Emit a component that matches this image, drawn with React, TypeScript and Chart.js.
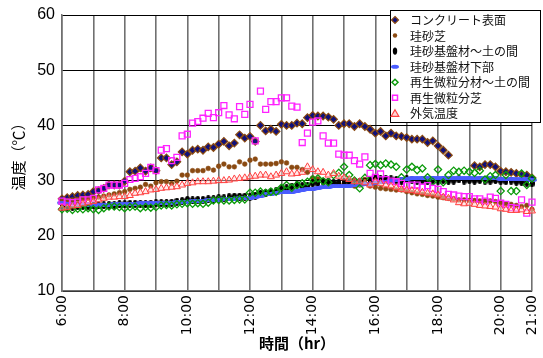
import React, { useEffect, useRef } from 'react';
import { Chart, registerables } from 'chart.js';

Chart.register(...registerables);

// ---- categories (10-minute readings, 6:00 - 21:00) ----
const timeLabels: string[] = [];
for (let h = 6; h <= 21; h++) {
  for (let m = 0; m < 60; m += 10) {
    if (h === 21 && m > 0) break;
    timeLabels.push(`${h}:${m === 0 ? '00' : String(m)}`);
  }
}
const shownTickLabels = ['6:00', '8:00', '10:00', '12:00', '14:00', '16:00', '18:00', '20:00', '21:00'];

const seriesNames = [
  'コンクリート表面',
  '珪砂芝',
  '珪砂基盤材～土の間',
  '珪砂基盤材下部',
  '再生微粒分材～土の間',
  '再生微粒分芝',
  '外気温度',
];

const yTicks = [10, 20, 30, 40, 50, 60];

// ---- series values (°C) ----
const concreteSurface = [
  26.7, 26.9, 27.1, 27.3, 27.4, 27.5, 28.0, 28.2, 28.6, 29.2, 29.2, 29.2,
  29.9, 31.6, 31.7, 32.3, 31.7, 32.3, 31.8, 34.1, 34.1, 32.9, 33.4, 35.2,
  34.8, 35.5, 35.7, 35.5, 36.1, 36.0, 36.6, 37.1, 36.3, 36.8, 38.3, 37.7,
  38.0, 37.1, 40.0, 39.0, 39.3, 38.9, 40.2, 40.0, 40.0, 40.4, 40.3, 41.4,
  41.8, 41.7, 41.7, 41.5, 41.1, 40.0, 40.3, 40.3, 39.8, 40.3, 39.8, 39.3,
  38.6, 38.9, 38.1, 38.6, 38.1, 38.0, 37.8, 37.5, 37.5, 37.5, 36.9, 37.2,
  36.3, 35.5, 34.6, null, null, null, null, 32.7, 32.5, 32.9, 32.9, 32.5,
  31.7, 31.6, 31.5, 31.3, 31.1, 31.0, 30.5,
];
const silicaTurf = [
  26.3, 26.4, 26.5, 26.6, 26.7, 26.8, 26.9, 27.0, 27.2, 27.4, 27.6, 27.8,
  28.0, 28.4, 28.6, 28.8, 29.3, 29.0, 29.6, 29.8, 29.8, 29.5, 29.9, 31.0,
  31.0, 31.8, 31.8, 31.8, 32.2, 31.9, 32.6, 33.0, 32.5, 32.5, 33.4, 33.0,
  33.7, 33.9, 33.0, 33.0, 33.0, 33.1, 33.4, 33.2, 32.4, 32.4, 32.0, 31.5,
  30.5, 30.3, 30.0, 29.8, 29.6, 29.5, 29.3, 29.2, 29.0, 29.2, 30.2, 29.0,
  28.8, 28.6, 28.5, 28.4, 28.3, 28.3, 28.0, 27.8, 27.6, 27.5, 27.3, 27.2,
  27.0, 26.9, 26.8, 26.7, 26.5, 26.5, 26.4, 26.4, 26.3, 26.3, 26.3, 26.2,
  26.0, 25.8, 25.7, 25.5, 25.3, 25.5, 24.8,
];
const silicaBaseSoil = [
  25.3, 25.3, 25.3, 25.4, 25.4, 25.4, 25.5, 25.5, 25.5, 25.6, 25.6, 25.7,
  25.7, 25.8, 25.8, 25.8, 25.7, 25.8, 25.9, 25.9, 25.9, 26.0, 26.2, 26.3,
  26.5, 26.4, 26.5, 26.5, 26.6, 26.6, 26.8, 26.8, 27.0, 27.1, 27.1, 27.1,
  27.1, 27.3, 27.6, 27.7, 27.9, 28.1, 28.4, 28.6, 28.9, 29.2, 29.0, 29.0,
  29.5, 29.5, 29.8, 29.8, 29.6, 29.6, 29.8, 29.8, 29.8, 29.7, 29.8, 30.0,
  30.4, 30.2, 30.3, 30.2, 30.1, 30.0, 30.2, 30.1, 30.0, 30.1, 30.0, 30.1,
  30.0, 30.1, 30.0, 30.0, 30.2, 30.0, 30.1, 30.0, 30.1, 30.0, 30.0, 30.1,
  30.0, 29.9, 30.0, 29.8, 29.8, 29.6, 29.5,
];
const silicaBaseLower = [
  26.0, 25.8, 25.7, 25.6, 25.6, 25.6, 25.6, 25.6, 25.6, 25.6, 25.7, 25.7,
  25.8, 25.8, 25.8, 25.9, 25.9, 25.9, 25.9, 26.0, 26.0, 26.0, 26.1, 26.2,
  26.2, 26.3, 26.3, 26.3, 26.4, 26.5, 26.5, 26.6, 26.6, 26.7, 26.8, 26.8,
  26.9, 27.1, 27.3, 27.5, 27.6, 27.8, 27.9, 28.0, 28.0, 28.2, 28.3, 28.4,
  28.5, 28.7, 28.8, 28.9, 29.0, 29.0, 29.0, 29.1, 29.2, 29.2, 29.3, 29.4,
  29.5, 29.7, 29.8, 30.0, 30.1, 30.2, 30.3, 30.4, 30.5, 30.5, 30.5, 30.5,
  30.5, 30.5, 30.5, 30.5, 30.5, 30.5, 30.5, 30.4, 30.4, 30.4, 30.4, 30.4,
  30.3, 30.3, 30.3, 30.2, 30.2, 30.2, 30.1,
];
const recycledBaseSoil = [
  24.8, 24.9, 24.7, 24.9, 24.8, 25.0, 24.8, 24.7, 25.0, 25.3, 25.3, 25.2,
  25.0, 25.2, 25.3, 25.0, 25.2, 25.1, 25.2, 25.5, 25.6, 25.5, 25.7, 25.8,
  25.9, 25.8, 25.9, 25.8, 26.0, 26.4, 26.5, 26.4, 26.4, 26.5, 26.6, 26.6,
  27.8, 27.8, 28.0, 27.8, 28.0, 28.0, 28.7, 29.2, 28.7, 29.2, 29.5, 29.8,
  30.2, 30.4, 29.9, 29.7, 31.0, 31.4, 32.5, 31.0, 30.0, 28.6, 30.5, 32.8,
  33.0, 32.8, 33.1, 32.9, 32.5, 30.6, 32.0, 32.5, 31.9, 32.2, 30.6, 29.8,
  32.0, 29.7, 31.0, 31.8, 31.6, 31.8, 31.6, 31.4, 31.8, 30.2, 30.8, 31.0,
  28.1, 31.0, 28.1, 28.1, 31.3, 29.2, 30.4,
];
const recycledTurf = [
  26.3, 26.1, 26.0, 26.1, 26.5, 26.5, 26.8, 28.3, 28.6, 29.2, 29.2, 29.2,
  29.5, 30.2, 30.4, 30.7, 31.3, 32.4, 31.8, 35.5, 35.8, 33.6, 34.2, 38.1,
  38.4, 40.4, 40.7, 41.3, 42.2, 41.4, 42.3, 43.6, 41.9, 41.2, 43.4, 42.0,
  43.8, 37.2, 46.2, 42.9, 44.3, 44.3, 45.0, 45.0, 43.5, 43.3, 36.9, 38.6,
  40.6, 40.8, 38.1, 36.8, 36.8, 34.8, 34.6, 34.6, 33.6, 33.0, 34.3, 31.3,
  30.6, 31.2, 30.2, 29.9, 29.8, 29.5, 29.1, 29.2, 29.2, 28.8, 29.1, 28.6,
  28.4, 28.0, 27.5, 27.4, 27.2, 27.1, 27.1, 26.7, 26.7, 26.3, 27.0, 26.8,
  25.9, 25.7, 25.1, 25.0, 26.5, 24.1, 26.1,
];
const outdoorAir = [
  25.0, 25.1, 25.4, 25.5, 25.8, 26.0, 26.2, 26.5, 26.8, 27.0, 27.0, 27.1,
  27.1, 27.3, 27.7, 27.8, 28.0, 28.3, 28.4, 28.6, 28.7, 28.8, 28.9, 29.2,
  29.5, 29.6, 29.8, 29.8, 29.8, 29.9, 30.0, 30.0, 30.1, 30.3, 30.4, 30.5,
  30.7, 30.8, 31.0, 31.0, 30.7, 31.0, 31.3, 31.6, 31.2, 31.3, 31.5, 32.5,
  32.0, 31.6, 31.5, 31.0, 31.3, 30.8, 30.5, 30.2, 29.8, 29.8, 29.6, 29.2,
  29.8, 29.5, 29.2, 29.0, 28.7, 28.4, 28.3, 28.2, 28.0, 27.9, 27.7, 27.6,
  27.4, 27.0, 26.8, 26.5, 26.0, 25.8, 25.9, 25.7, 25.5, 25.4, 25.3, 25.2,
  24.9, 24.8, 24.6, 24.6, 24.7, 24.4, 24.5,
];

const NAVY = '#10107a';
const BROWN = '#8a4a12';
const BLACK = '#000000';
const BLUE = '#4a5cff';
const GREEN = '#0a9a0a';
const MAGENTA = '#ff22ff';
const RED = '#ff4040';

function makeEllipse(w: number, h: number, color: string): HTMLCanvasElement {
  const c = document.createElement('canvas');
  c.width = w;
  c.height = h;
  const g = c.getContext('2d')!;
  g.fillStyle = color;
  g.beginPath();
  g.ellipse(w / 2, h / 2, w / 2, h / 2, 0, 0, Math.PI * 2);
  g.fill();
  return c;
}

function drawLegendIcon(ctx: CanvasRenderingContext2D, i: number, x: number, y: number) {
  ctx.save();
  ctx.lineWidth = 1.2;
  switch (i) {
    case 0:
      ctx.fillStyle = NAVY;
      ctx.strokeStyle = BROWN;
      ctx.beginPath();
      ctx.moveTo(x, y - 3.5); ctx.lineTo(x + 3.5, y); ctx.lineTo(x, y + 3.5); ctx.lineTo(x - 3.5, y); ctx.closePath();
      ctx.fill(); ctx.stroke();
      break;
    case 1:
      ctx.fillStyle = BROWN;
      ctx.beginPath(); ctx.arc(x, y, 2.2, 0, Math.PI * 2); ctx.fill();
      break;
    case 2:
      ctx.fillStyle = BLACK;
      ctx.beginPath(); ctx.ellipse(x, y, 2.2, 3.6, 0, 0, Math.PI * 2); ctx.fill();
      break;
    case 3:
      ctx.fillStyle = BLUE;
      ctx.beginPath(); ctx.ellipse(x, y, 4, 2, 0, 0, Math.PI * 2); ctx.fill();
      break;
    case 4:
      ctx.strokeStyle = GREEN; ctx.lineWidth = 1.5;
      ctx.beginPath();
      ctx.moveTo(x, y - 3); ctx.lineTo(x + 3, y); ctx.lineTo(x, y + 3); ctx.lineTo(x - 3, y); ctx.closePath();
      ctx.stroke();
      break;
    case 5:
      ctx.strokeStyle = MAGENTA; ctx.lineWidth = 1.5;
      ctx.strokeRect(x - 2.5, y - 2.5, 5, 5);
      break;
    case 6:
      ctx.strokeStyle = RED; ctx.fillStyle = '#ffd6d6'; ctx.lineWidth = 1.2;
      ctx.beginPath();
      ctx.moveTo(x, y - 3.5); ctx.lineTo(x + 3.8, y + 3); ctx.lineTo(x - 3.8, y + 3); ctx.closePath();
      ctx.fill(); ctx.stroke();
      break;
  }
  ctx.restore();
}

const boxLegend = {
  id: 'boxLegend',
  afterDraw(chart: any) {
    const ctx: CanvasRenderingContext2D = chart.ctx;
    ctx.save();
    const x0 = 390.5, y0 = 10.5, w = 150, h = 112;
    ctx.fillStyle = '#ffffff';
    ctx.fillRect(x0, y0, w, h);
    ctx.strokeStyle = '#000000';
    ctx.lineWidth = 1;
    ctx.strokeRect(x0, y0, w, h);
    ctx.font = '12px "Noto Sans CJK JP", sans-serif';
    ctx.textBaseline = 'middle';
    ctx.textAlign = 'left';
    seriesNames.forEach((name, i) => {
      const cy = 20 + i * 15.55;
      drawLegendIcon(ctx, i, 395, cy);
      ctx.fillStyle = '#111111';
      ctx.fillText(name, 410, cy + 0.5);
    });
    ctx.restore();
  },
};

export default function App() {
  const canvasRef = useRef<HTMLCanvasElement | null>(null);

  useEffect(() => {
    if (!canvasRef.current) return;
    const blackEllipse = makeEllipse(5, 8, BLACK);
    const blueDash = makeEllipse(10, 4, BLUE);

    const common = { showLine: false, spanGaps: false };
    const chart = new Chart(canvasRef.current, {
      type: 'line',
      data: {
        labels: timeLabels,
        datasets: [
          { ...common, label: seriesNames[0], data: concreteSurface, pointStyle: 'rectRot', pointRadius: 3.8, backgroundColor: NAVY, borderColor: BROWN, pointBorderWidth: 1.2, order: 7 },
          { ...common, label: seriesNames[1], data: silicaTurf, pointStyle: 'circle', pointRadius: 2.4, backgroundColor: BROWN, borderColor: BROWN, pointBorderWidth: 0.5, order: 6 },
          { ...common, label: seriesNames[2], data: silicaBaseSoil, pointStyle: blackEllipse as any, backgroundColor: BLACK, borderColor: BLACK, order: 5 },
          { ...common, label: seriesNames[3], data: silicaBaseLower, pointStyle: blueDash as any, backgroundColor: BLUE, borderColor: BLUE, order: 4 },
          { ...common, label: seriesNames[4], data: recycledBaseSoil, pointStyle: 'rectRot', pointRadius: 3.6, backgroundColor: 'rgba(255,255,255,0)', borderColor: GREEN, pointBorderWidth: 1.3, order: 3 },
          { ...common, label: seriesNames[5], data: recycledTurf, pointStyle: 'rect', pointRadius: 4.2, backgroundColor: 'rgba(255,255,255,0)', borderColor: MAGENTA, pointBorderWidth: 1.3, order: 2 },
          { ...common, label: seriesNames[6], data: outdoorAir, pointStyle: 'triangle', pointRadius: 4.0, backgroundColor: 'rgba(255,214,214,0.5)', borderColor: RED, pointBorderWidth: 1.0, order: 1 },
        ] as any,
      },
      options: {
        responsive: false,
        animation: false,
        events: [],
        layout: { padding: { left: 0, right: 11, top: 15, bottom: 0 } },
        plugins: {
          legend: { display: false },
          tooltip: { enabled: false },
        },
        scales: {
          x: {
            type: 'category',
            offset: false,
            grid: {
              color: (c: any) => (c.index % 6 === 0 ? '#707070' : 'rgba(0,0,0,0)'),
              lineWidth: 1.6,
              drawTicks: false,
            },
            border: { display: true, color: '#707070', width: 1.5 },
            ticks: {
              autoSkip: false,
              minRotation: 90,
              maxRotation: 90,
              padding: 4,
              color: '#000000',
              font: { family: '"DejaVu Sans", sans-serif', size: 14 },
              callback: (_v: any, index: number) => {
                const l = timeLabels[index];
                return shownTickLabels.includes(l) ? l : '';
              },
            },
            title: {
              display: true,
              text: '時間（hr）',
              color: '#000000',
              font: { family: '"Noto Sans CJK JP", sans-serif', size: 15, weight: 'bold' },
              padding: { top: 0, bottom: 6 },
            },
            afterFit: (s: any) => {
              s.height = 67;
              s.paddingLeft = 0;
              s.paddingRight = 0;
            },
          },
          y: {
            min: 10,
            max: 60,
            afterBuildTicks: (s: any) => { s.ticks = yTicks.map((v) => ({ value: v })); },
            grid: { color: '#000000', lineWidth: 1, drawTicks: false },
            border: { display: true, color: '#707070', width: 1.5 },
            ticks: {
              padding: 7,
              color: '#000000',
              font: { family: '"Liberation Sans", Arial, sans-serif', size: 16 },
            },
            title: {
              display: true,
              text: '温度（℃）',
              color: '#000000',
              font: { family: '"Noto Sans CJK JP", sans-serif', size: 15 },
              padding: { top: 9, bottom: 0 },
            },
            afterFit: (s: any) => {
              s.width = 62;
              s.paddingTop = 0;
              s.paddingBottom = 0;
            },
          },
        },
      } as any,
      plugins: [boxLegend],
    });
    return () => chart.destroy();
  }, []);

  return (
    <div style={{ position: 'absolute', left: 0, top: 0, width: 543, height: 358, background: '#ffffff' }}>
      <canvas ref={canvasRef} width={543} height={358} style={{ width: 543, height: 358, display: 'block' }} />
    </div>
  );
}
